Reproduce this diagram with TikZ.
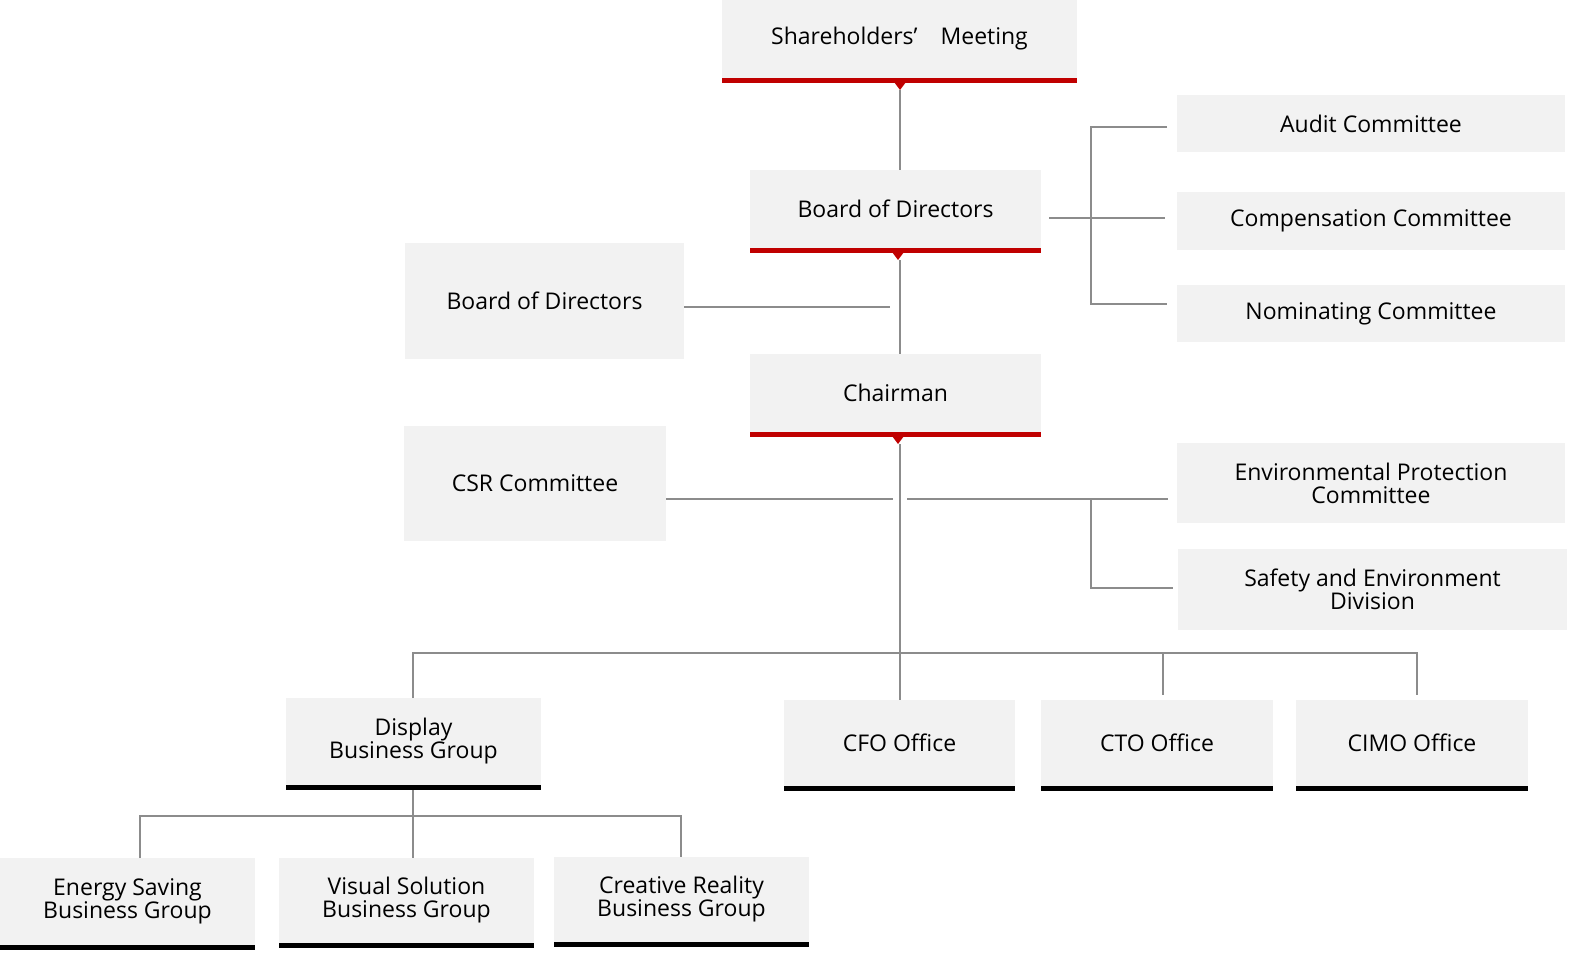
\documentclass[tikz,border=0pt]{standalone}
\usepackage{fontspec}
\setmainfont{Open Sans}
\definecolor{boxgray}{HTML}{F2F2F2}
\definecolor{barred}{HTML}{C00000}
\definecolor{linegray}{HTML}{8C8C8C}
\tikzset{
  conn/.style={draw=linegray,line width=1.2pt},
  lbl/.style={font=\fontsize{23}{26}\selectfont,align=center,text=black,inner sep=0pt}
}
\newcommand{\obox}[7]{% name x1 y1 x2 y2 text barcolor
  \fill[boxgray] (#2,#3) rectangle (#4,#5);
  \node[lbl] (#1) at ({(#2+#4)/2},{(#3+#5)/2}) {#6};
}
\newcommand{\obar}[5]{% x1 y1 x2 y2 color
  \fill[#5] (#1,#2) rectangle (#3,#4);
}
\newcommand{\otri}[3]{% cx y color
  \fill[#3] (#1-6,#2) -- (#1+6,#2) -- (#1,#2+8) -- cycle;
}
\begin{document}
\begin{tikzpicture}[x=1pt,y=-1pt]
\useasboundingbox (0,0) rectangle (1591,969);
% boxes
\obox{sh}{722}{0}{1077}{78}{Shareholders'\quad Meeting}{}
\obar{722}{78}{1077}{83}{barred}\otri{900}{82}{barred}
\obox{bd}{750}{170}{1041}{248}{Board of Directors}{}
\obar{750}{248}{1041}{253}{barred}\otri{898}{252}{barred}
\obox{bdl}{405}{243}{684}{359}{Board of Directors}{}
\obox{ch}{750}{354}{1041}{432}{Chairman}{}
\obar{750}{432}{1041}{437}{barred}\otri{898}{436}{barred}
\obox{csr}{404}{426}{666}{541}{CSR Committee}{}
\obox{aud}{1177}{95}{1565}{152}{Audit Committee}{}
\obox{comp}{1177}{192}{1565}{250}{Compensation Committee}{}
\obox{nom}{1177}{285}{1565}{342}{Nominating Committee}{}
\obox{env}{1177}{443}{1565}{523}{Environmental Protection\\[-3pt]Committee}{}
\obox{saf}{1178}{549}{1567}{630}{Safety and Environment\\[-3pt]Division}{}
\obox{disp}{286}{698}{541}{785}{Display\\[-3pt]Business Group}{}
\obar{286}{785}{541}{790}{black}
\obox{cfo}{784}{700}{1015}{786}{CFO Office}{}
\obar{784}{786}{1015}{791}{black}
\obox{cto}{1041}{700}{1273}{786}{CTO Office}{}
\obar{1041}{786}{1273}{791}{black}
\obox{cimo}{1296}{700}{1528}{786}{CIMO Office}{}
\obar{1296}{786}{1528}{791}{black}
\obox{en}{0}{858}{255}{945}{Energy Saving\\[-3pt]Business Group}{}
\obar{0}{945}{255}{950}{black}
\obox{vis}{279}{858}{534}{943}{Visual Solution\\[-3pt]Business Group}{}
\obar{279}{943}{534}{948}{black}
\obox{cre}{554}{857}{809}{942}{Creative Reality\\[-3pt]Business Group}{}
\obar{554}{942}{809}{947}{black}
% coordinates
\coordinate (a1) at (900,90); \coordinate (a2) at (900,170);
\coordinate (b1) at (900,260); \coordinate (b2) at (900,354);
\coordinate (c1) at (900,444); \coordinate (c2) at (900,700);
\draw[conn] (a1) -- (a2);
\draw[conn] (b1) -- (b2);
\draw[conn] (c1) -- (c2);
% committees
\draw[conn] (1049,218) -- (1165,218);
\draw[conn] (1167,127) -- (1091,127) -- (1091,304) -- (1167,304);
\draw[conn] (bdl.east |- 0,307) ++(0,0) (684,307) -- (890,307);
\draw[conn] (666,499) -- (893,499);
\draw[conn] (907,499) -- (1168,499);
\draw[conn] (1091,499) -- (1091,588) -- (1173,588);
% divisions
\draw[conn] (413,698) -- (413,653) -- (1417,653) -- (1417,695);
\draw[conn] (1163,653) -- (1163,695);
\draw[conn] (413,790) -- (413,858);
\draw[conn] (140,858) -- (140,816) -- (681,816) -- (681,857);
\end{tikzpicture}
\end{document}
